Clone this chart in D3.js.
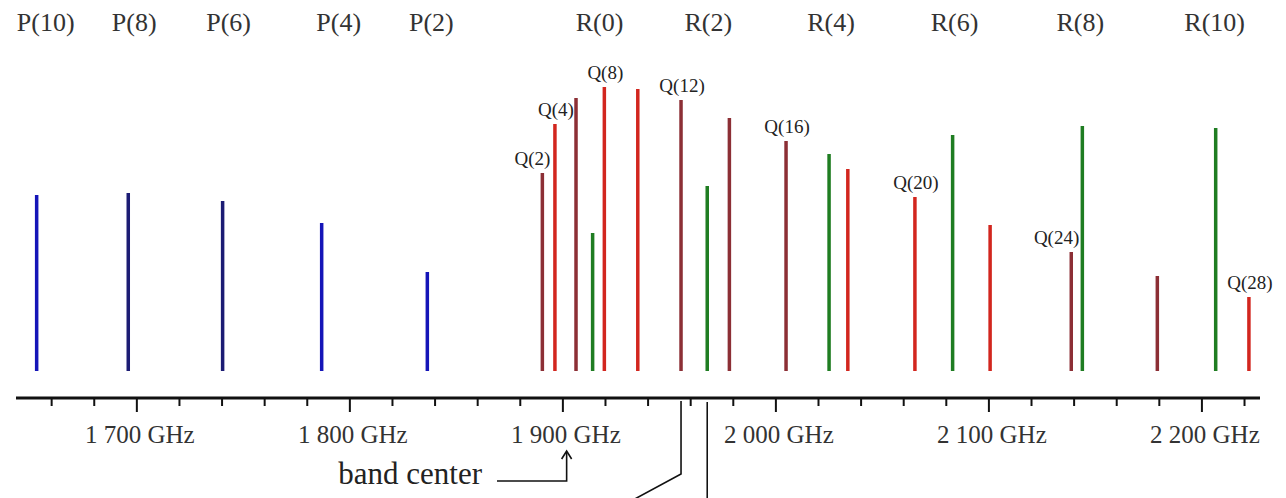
<!DOCTYPE html>
<html><head><meta charset="utf-8">
<script src="https://cdn.jsdelivr.net/npm/d3@7/dist/d3.min.js"></script>
<style>html,body{margin:0;padding:0;background:#fff;} svg{display:block;}</style>
</head><body><svg id="c" width="1286" height="498"></svg>
<script>
// ---- data (frequency in GHz, relative intensity) ----
const pLabels = ["P(10)","P(8)","P(6)","P(4)","P(2)"];
const pFreq   = [1653.2, 1696.2, 1740.5, 1787.0, 1836.6];
const pInt    = [176, 178, 170, 148, 99];

const rLabels = ["R(0)","R(2)","R(4)","R(6)","R(8)","R(10)"];
const rFreq   = [1914.2, 1968.0, 2025.2, 2083.2, 2144.1, 2206.7];
const rInt    = [138, 185, 217, 236, 245, 243];

const qLabels = ["Q(2)","Q(4)","Q(6)","Q(8)","Q(10)","Q(12)","Q(14)","Q(16)","Q(18)","Q(20)","Q(22)","Q(24)","Q(26)","Q(28)"];
const qFreq   = [1890.6, 1896.5, 1906.4, 1919.7, 1935.4, 1955.7, 1978.4, 2005.0, 2034.0, 2065.5, 2100.8, 2138.9, 2179.3, 2222.3];
const qInt    = [198, 247, 273, 284, 282, 271, 253, 230, 202, 174, 146, 119, 95, 74];
const qShown  = ["Q(2)","Q(4)","Q(8)","Q(12)","Q(16)","Q(20)","Q(24)","Q(28)"];

const tickValues = d3.range(1660, 2221, 20);
const majorTicks = [1700, 1800, 1900, 2000, 2100, 2200];
const majorLabels = ["1 700 GHz","1 800 GHz","1 900 GHz","2 000 GHz","2 100 GHz","2 200 GHz"];
const bandCenter = 1902;
const bandCenterLabel = "band center";

// ---- styles / layout nudges (not data) ----
const pShade = ["#1515b8","#1c1c74","#1c1c74","#1515b8","#1515b8"];
const qShade = ["#8c2f35","#d2261e","#8c2f35","#d2261e","#d2261e","#8c2f35","#8c2f35","#8c2f35","#d2261e","#d2261e","#d2261e","#8c2f35","#8c2f35","#d2261e"];
const rColor = "#1f7d22";
const pNudge = [9, 6, 6, 17, 4];
const rNudge = [7, 1, 2, 2, -2, -1];
const qEndAnchored = ["Q(2)","Q(24)"];
const SERIF = "'Liberation Serif','Times New Roman',serif";

const svg = d3.select("#c");
const x = d3.scaleLinear().domain([1643.5, 2227.5]).range([16, 1260]);
const y = d3.scaleLinear().domain([0, 300]).range([371, 71]);

function drawLines(freqs, ints, colorFn, w) {
  svg.append("g").selectAll("line").data(freqs).join("line")
    .attr("x1", d => x(d)).attr("x2", d => x(d))
    .attr("y1", y(0)).attr("y2", (d, i) => y(ints[i]))
    .attr("stroke", (d, i) => colorFn(i)).attr("stroke-width", w);
}
drawLines(pFreq, pInt, i => pShade[i], 3.5);
drawLines(qFreq, qInt, i => qShade[i], 3.5);
drawLines(rFreq, rInt, () => rColor, 3.5);

// top labels (P and R branches)
const topLab = svg.append("g").attr("font-family", SERIF).attr("font-size", 26).attr("fill", "#333").attr("text-anchor", "middle");
pLabels.forEach((t, i) => topLab.append("text").attr("x", x(pFreq[i]) + pNudge[i]).attr("y", 31).text(t));
rLabels.forEach((t, i) => topLab.append("text").attr("x", x(rFreq[i]) + rNudge[i]).attr("y", 31).text(t));

// Q labels
const qLab = svg.append("g").attr("font-family", SERIF).attr("font-size", 19).attr("fill", "#222");
qLabels.forEach((t, i) => {
  if (!qShown.includes(t)) return;
  const end = qEndAnchored.includes(t);
  qLab.append("text")
    .attr("x", x(qFreq[i]) + (end ? 8 : 1))
    .attr("y", y(qInt[i]) - 8)
    .attr("text-anchor", end ? "end" : "middle")
    .text(t);
});

// axis
const axisY = 398;
svg.append("line").attr("x1", 16).attr("x2", 1260).attr("y1", axisY).attr("y2", axisY)
  .attr("stroke", "#111").attr("stroke-width", 3);
const axis = d3.axisBottom(x).tickValues(tickValues).tickSizeOuter(0)
  .tickFormat(d => { const k = majorTicks.indexOf(d); return k >= 0 ? majorLabels[k] : ""; });
const gA = svg.append("g").attr("transform", `translate(0,${axisY})`).call(axis);
gA.select(".domain").remove();
gA.selectAll(".tick line").attr("y2", d => majorTicks.includes(d) ? 14 : 8)
  .attr("stroke", "#111").attr("stroke-width", 2);
gA.selectAll(".tick text").attr("y", 45).attr("dy", 0).attr("dx", 3)
  .attr("font-family", SERIF).attr("font-size", 25).attr("fill", "#333");

// band center annotation
const bx = x(bandCenter);
const ann = svg.append("g").attr("fill", "none").attr("stroke", "#111").attr("stroke-width", 1.6);
ann.append("path").attr("d", `M${bx},452 V481 H497`);
ann.append("path").attr("d", `M${bx - 5},459 L${bx},451 L${bx + 5},459`);
svg.append("text").attr("x", 482).attr("y", 484).attr("text-anchor", "end")
  .attr("font-family", SERIF).attr("font-size", 31).attr("fill", "#222").text(bandCenterLabel);

// callout leaders from Q(12) and R(2)
const xq = x(qFreq[qLabels.indexOf("Q(12)")]);
const xr = x(rFreq[rLabels.indexOf("R(2)")]);
ann.append("path").attr("d", `M${xq},401 V474 L${xq - 50},501`);
ann.append("path").attr("d", `M${xr},402 V500`);
</script></body></html>
